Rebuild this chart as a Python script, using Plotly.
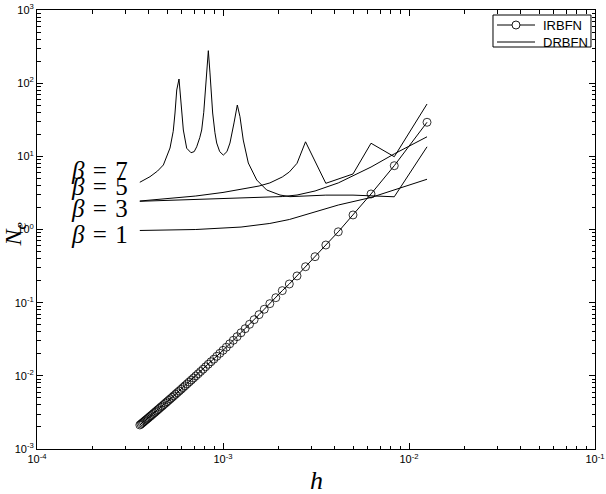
import math
import plotly.graph_objects as go

# ---------------- data ----------------
# IRBFN: number of intervals N (h = 1/N) and values
irbfn_N = [80, 120, 160, 200, 240, 280, 320, 360, 400, 440, 480, 520, 560, 600, 640,
           680, 720, 760, 800, 840, 880, 920, 960, 1000, 1040, 1080, 1120, 1160, 1200,
           1240, 1280, 1320, 1360, 1400, 1440, 1480, 1520, 1560, 1600, 1640, 1680, 1720,
           1760, 1800, 1840, 1880, 1920, 1960, 2000, 2040, 2080, 2120, 2160, 2200, 2240,
           2280, 2320, 2360, 2400, 2440, 2480, 2520, 2560, 2600, 2640, 2680, 2720, 2760, 2800]
irbfn_ne = [29.2, 7.45, 3.06, 1.58, 0.93, 0.614, 0.425, 0.310, 0.232, 0.180, 0.146, 0.117,
            0.0969, 0.0812, 0.0686, 0.0586, 0.0506, 0.0441, 0.0388, 0.0343, 0.0306, 0.0274,
            0.0246, 0.0223, 0.0203, 0.0185, 0.0169, 0.0156, 0.0144, 0.0133, 0.0123, 0.01145,
            0.01067, 0.00997, 0.00934, 0.00876, 0.00824, 0.00776, 0.00732, 0.00692, 0.00654,
            0.00620, 0.00589, 0.00560, 0.00532, 0.00507, 0.00484, 0.00462, 0.00442, 0.00423,
            0.00405, 0.00388, 0.00373, 0.00358, 0.00344, 0.00331, 0.00318, 0.00307, 0.00296,
            0.00285, 0.00276, 0.00266, 0.00257, 0.00249, 0.00241, 0.00233, 0.00226, 0.00219,
            0.00213]

# DRBFN curves
beta1_h = [3.57e-4, 7.14e-4, 1.25e-3, 1.786e-3, 2.273e-3, 3.125e-3, 4.167e-3, 6.25e-3, 8.333e-3, 1.25e-2]
beta1_ne = [0.97, 1.00, 1.08, 1.21, 1.37, 1.73, 2.16, 2.74, 3.47, 4.86]

beta3_h = [3.57e-4, 7.14e-4, 1.25e-3, 1.786e-3, 2.083e-3, 2.5e-3, 3.125e-3, 4.167e-3, 5e-3,
           6.25e-3, 8.333e-3, 1.25e-2]
beta3_ne = [2.43, 2.59, 2.74, 2.81, 2.82, 2.96, 3.36, 4.33, 5.38, 7.14, 10.8, 18.5]

beta5_h = [3.57e-4, 5e-4, 7.14e-4, 1e-3, 1.25e-3, 1.5625e-3, 1.786e-3, 2.083e-3, 2.273e-3,
           2.5e-3, 2.778e-3, 3.571e-3, 5e-3, 6.25e-3, 8.333e-3, 1.25e-2]
beta5_ne = [2.45, 2.66, 2.87, 3.21, 3.52, 3.93, 4.33, 5.22, 6.11, 8.03, 15.8, 4.28, 5.74,
            15.1, 9.88, 51.9]

beta7_h = [3.57e-4, 4.05e-4, 4.45e-4, 4.78e-4, 5.19e-4, 5.40e-4, 5.52e-4, 5.64e-4, 5.80e-4,
           5.92e-4, 6.02e-4, 6.12e-4, 6.38e-4, 6.73e-4, 7.00e-4, 7.22e-4, 7.50e-4, 7.68e-4,
           7.88e-4, 8.00e-4, 8.17e-4, 8.34e-4, 8.51e-4, 8.80e-4, 9.05e-4, 9.25e-4, 9.60e-4,
           1.004e-3, 1.050e-3, 1.090e-3, 1.146e-3, 1.194e-3, 1.234e-3, 1.285e-3, 1.368e-3,
           1.518e-3, 1.717e-3, 2.025e-3, 2.29e-3, 2.5e-3, 3.571e-3, 5e-3, 6.25e-3, 8.333e-3,
           1.25e-2]
beta7_ne = [4.42, 5.27, 6.3, 7.62, 13.0, 22.0, 39.1, 80.7, 114, 65.3, 36.0, 22.9, 12.9, 11.2,
            11.6, 13.5, 18.0, 22.9, 40.0, 65.3, 151, 278, 138, 39.1, 21.0, 15.2, 11.6, 10.4,
            11.6, 15.2, 28.6, 50.3, 34.8, 16.7, 8.11, 4.75, 3.47, 2.96, 2.81, 2.85, 2.95,
            2.95, 2.9, 2.8, 13.5]

beta_labels = ["7", "5", "3", "1"]
beta_label_y = [0.634, 0.598, 0.548, 0.4895]

major_ticks_x = [1e-4, 1e-3, 1e-2, 1e-1]
major_ticks_y = [1e-3, 1e-2, 1e-1, 1e0, 1e1, 1e2, 1e3]
minor_digits = [2, 3, 4, 5, 6, 7, 8, 9]

# ---------------- figure ----------------
fig = go.Figure()

fig.add_trace(go.Scatter(
    x=[1.0 / n for n in irbfn_N], y=irbfn_ne, mode="lines+markers", name="IRBFN",
    showlegend=False,
    line=dict(color="black", width=1),
    marker=dict(symbol="circle-open", size=8, color="black", line=dict(width=0.8)),
))

for hh, vv in [(beta1_h, beta1_ne), (beta3_h, beta3_ne), (beta5_h, beta5_ne), (beta7_h, beta7_ne)]:
    fig.add_trace(go.Scatter(
        x=hh, y=vv, mode="lines", name="DRBFN", showlegend=False,
        line=dict(color="black", width=1),
    ))

# empty trace to activate the minor-tick overlay axes
fig.add_trace(go.Scatter(x=[], y=[], xaxis="x2", yaxis="y2", showlegend=False,
                         hoverinfo="skip"))

minor_x = [d * m for m in major_ticks_x[:-1] for d in minor_digits]
minor_y = [d * m for m in major_ticks_y[:-1] for d in minor_digits]


def sup_label(v):
    e = int(round(math.log10(v)))
    return "10<sup>%d</sup>" % e


tickfont = dict(family="Liberation Sans, Arial", size=11, color="black")
common = dict(type="log", showline=True, linecolor="black", linewidth=1, mirror="ticks",
              ticks="inside", tickcolor="black", tickwidth=1, showgrid=False,
              zeroline=False, automargin=False)

fig.update_layout(
    xaxis=dict(range=[-4, -1], tickmode="array", tickvals=major_ticks_x,
               ticktext=[sup_label(v) for v in major_ticks_x], ticklen=6,
               tickfont=tickfont, **common),
    yaxis=dict(range=[-3, 3], tickmode="array", tickvals=major_ticks_y,
               ticktext=[sup_label(v) for v in major_ticks_y], ticklen=6,
               tickfont=tickfont, **common),
    xaxis2=dict(range=[-4, -1], overlaying="x", anchor="y", tickmode="array",
                tickvals=minor_x, ticklen=3.5, showticklabels=False, **common),
    yaxis2=dict(range=[-3, 3], overlaying="y", anchor="x", tickmode="array",
                tickvals=minor_y, ticklen=3.5, showticklabels=False, **common),
)

annots = []
for lab, yy in zip(beta_labels, beta_label_y):
    annots.append(dict(
        x=0.058, y=yy, xref="paper", yref="paper", xanchor="left", yanchor="middle",
        text="<i>β</i>\u2004=\u2004" + lab, showarrow=False,
        font=dict(family="Liberation Serif, DejaVu Serif", size=25, color="black"),
    ))
annots.append(dict(
    x=0.5, y=-0.072, xref="paper", yref="paper", xanchor="center", yanchor="middle",
    text="<i>h</i>", showarrow=False,
    font=dict(family="Liberation Serif, DejaVu Serif", size=26, color="black"),
))
annots.append(dict(
    x=-0.04, y=0.49, xref="paper", yref="paper", xanchor="center", yanchor="middle",
    text="<i>N</i><sub><i>e</i></sub>", showarrow=False, textangle=-90,
    font=dict(family="Liberation Serif, DejaVu Serif", size=24, color="black"),
))

# legend (box, samples and labels) in paper coordinates
leg_x0, leg_x1, leg_y0, leg_y1 = 0.8172, 0.9928, 0.9157, 0.9886
row_y = [0.9658, 0.9271]
legend_names = ["IRBFN", "DRBFN"]
shapes = [dict(type="rect", xref="paper", yref="paper", x0=leg_x0, x1=leg_x1,
               y0=leg_y0, y1=leg_y1, line=dict(color="black", width=1),
               fillcolor="white", layer="above")]
for ry in row_y:
    shapes.append(dict(type="line", xref="paper", yref="paper", x0=0.8244, x1=0.8925,
                       y0=ry, y1=ry, line=dict(color="black", width=1), layer="above"))
shapes.append(dict(type="circle", xref="paper", yref="paper",
                   x0=0.8584 - 4 / 558, x1=0.8584 + 4 / 558,
                   y0=row_y[0] - 4 / 439, y1=row_y[0] + 4 / 439,
                   line=dict(color="black", width=0.9), fillcolor="white", layer="above"))
for name, ry in zip(legend_names, row_y):
    annots.append(dict(x=0.9032, y=ry, xref="paper", yref="paper", xanchor="left",
                       yanchor="middle", text=name, showarrow=False,
                       font=dict(family="Liberation Sans, Arial", size=13, color="black")))

fig.update_layout(
    width=606, height=494,
    margin=dict(l=37, r=11, t=10, b=45, autoexpand=False),
    paper_bgcolor="white", plot_bgcolor="white",
    showlegend=False,
    annotations=annots,
    shapes=shapes,
)

fig.write_html("out.html")
